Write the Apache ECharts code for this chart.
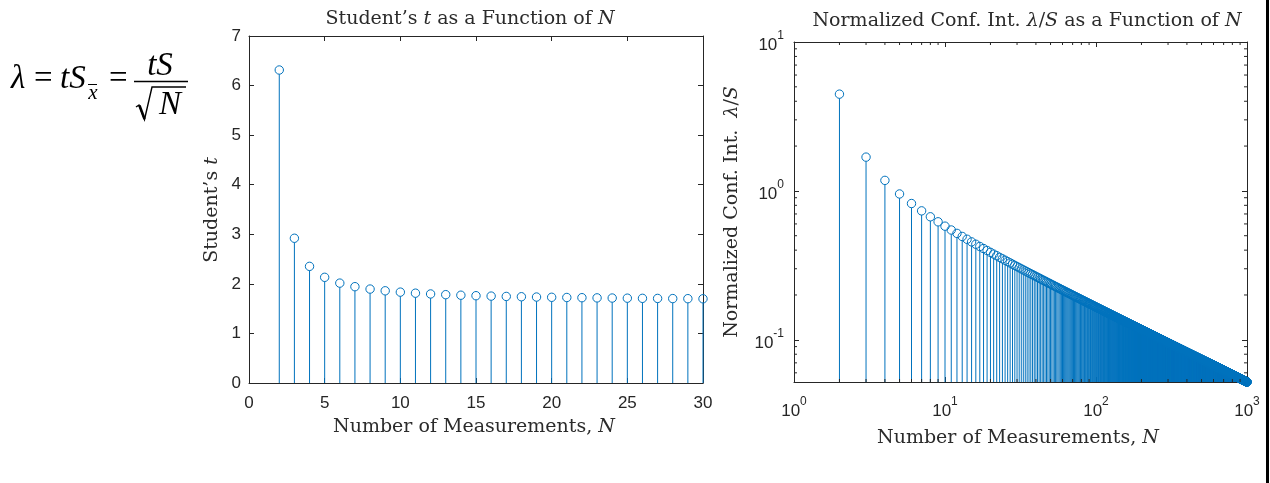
<!DOCTYPE html>
<html>
<head>
<meta charset="utf-8">
<script src="https://cdn.jsdelivr.net/npm/echarts@6/dist/echarts.min.js"></script>
<style>
html,body{margin:0;padding:0;background:#fff;}
#chart{width:1270px;height:483px;}
</style>
</head>
<body>
<div id="chart"></div>
<script>
// ---------------- data ----------------
// Number of measurements N shown in the left panel
const N_LEFT = [2,3,4,5,6,7,8,9,10,11,12,13,14,15,16,17,18,19,20,21,22,23,24,25,26,27,28,29,30];
// Student's t for N = 2..30
const T_LEFT = [6.314,2.920,2.353,2.132,2.015,1.943,1.895,1.860,1.833,1.812,1.796,1.782,1.771,1.761,1.753,1.746,1.740,1.734,1.729,1.725,1.721,1.717,1.714,1.711,1.708,1.706,1.703,1.701,1.699];
// Right panel: N runs from 2 to 1000
const N_RIGHT_FIRST = 2;
const N_RIGHT_LAST = 1000;
// Large-sample t (one-sided 95 %) expansion coefficients, used beyond the tabulated N
const T_Z = 1.644854, T_C1 = 1.5238, T_C2 = 1.4202;
// Tick labels
const X_TICKS_LEFT = [0,5,10,15,20,25,30];
const Y_TICKS_LEFT = [0,1,2,3,4,5,6,7];
const X_MINOR_RIGHT = [2,3,4,5,6,7,8,9,20,30,40,50,60,70,80,90,200,300,400,500,600,700,800,900];
const Y_MINOR_RIGHT = [0.06,0.07,0.08,0.09,0.2,0.3,0.4,0.5,0.6,0.7,0.8,0.9,2,3,4,5,6,7,8,9];

// lambda / S = t / sqrt(N)  (equation shown at left of the figure)
const N_RIGHT = [];
const LAMBDA_S = [];
for (let n = N_RIGHT_FIRST; n <= N_RIGHT_LAST; n++) {
  const df = n - 1;
  const t = n <= 30 ? T_LEFT[n - 2] : T_Z + T_C1 / df + T_C2 / (df * df);
  N_RIGHT.push(n);
  LAMBDA_S.push(t / Math.sqrt(n));
}
const Y_MIN_RIGHT = Math.min.apply(null, LAMBDA_S);

// ---------------- style ----------------
const BLUE = '#0072BD';
const AX = '#262626';
const SANS = '"Liberation Sans", Arial, sans-serif';
const SERIF = '"Liberation Serif", "Times New Roman", serif';
const LSERIF = '"DejaVu Serif", serif';
const TICK_FS = 17;
const R = 4.2;

const chart = echarts.init(document.getElementById('chart'), null, {renderer: 'canvas'});

function baseAxis(extra) {
  return Object.assign({
    axisLine: {show: true, onZero: false, lineStyle: {color: AX, width: 1}},
    axisTick: {show: true, inside: true, length: 5, lineStyle: {color: AX, width: 1}},
    splitLine: {show: false},
    axisLabel: {color: AX, fontSize: TICK_FS, fontFamily: SANS}
  }, extra);
}

function logLabel(v) {
  const e = Math.log10(v);
  const r = Math.round(e);
  if (Math.abs(e - r) > 1e-6) return '';
  return '{b|10}{s|' + r + '}';
}
const LOG_RICH = {
  b: {fontSize: TICK_FS, fontFamily: SANS, color: AX, verticalAlign: 'bottom', padding: [7, 0, 0, 0]},
  s: {fontSize: 12, fontFamily: SANS, color: AX, verticalAlign: 'top'}
};

function stemRender(useZeroBase) {
  return function (params, api) {
    const x = api.value(0), y = api.value(1);
    const p = api.coord([x, y]);
    const cs = params.coordSys;
    const by = useZeroBase ? api.coord([x, 0])[1] : cs.y + cs.height;
    return {
      type: 'group',
      children: [
        {type: 'line', shape: {x1: p[0], y1: by, x2: p[0], y2: p[1] + R},
         style: {stroke: BLUE, lineWidth: 1}},
        {type: 'circle', shape: {cx: p[0], cy: p[1], r: R},
         style: {fill: 'transparent', stroke: BLUE, lineWidth: 1}}
      ]
    };
  };
}

const leftData = N_LEFT.map((n, i) => [n, T_LEFT[i]]);
const rightData = N_RIGHT.map((n, i) => [n, LAMBDA_S[i]]);

const option = {
  animation: false,
  backgroundColor: '#fff',
  grid: [
    {left: 249, top: 36, width: 454, height: 347},
    {left: 794, top: 42, width: 453, height: 340}
  ],
  xAxis: [
    baseAxis({gridIndex: 0, type: 'value', min: 0, max: 30, interval: 5, position: 'bottom',
      axisLabel: {color: AX, fontSize: TICK_FS, fontFamily: SANS, margin: 12}}),
    baseAxis({gridIndex: 0, type: 'value', min: 0, max: 30, interval: 5, position: 'top',
      axisLabel: {show: false}}),
    baseAxis({gridIndex: 1, type: 'log', logBase: 10, min: 1, max: 1000, position: 'bottom',
      axisLabel: {formatter: logLabel, rich: LOG_RICH, margin: 14, showMinLabel: true, showMaxLabel: true}}),
    baseAxis({gridIndex: 1, type: 'log', logBase: 10, min: 1, max: 1000, position: 'top',
      axisLabel: {show: false}})
  ],
  yAxis: [
    baseAxis({gridIndex: 0, type: 'value', min: 0, max: 7, interval: 1, position: 'left',
      axisLabel: {color: AX, fontSize: TICK_FS, fontFamily: SANS, margin: 8}}),
    baseAxis({gridIndex: 0, type: 'value', min: 0, max: 7, interval: 1, position: 'right',
      axisLabel: {show: false}}),
    baseAxis({gridIndex: 1, type: 'log', logBase: 10, min: Y_MIN_RIGHT, max: 10, position: 'left',
      axisLabel: {formatter: logLabel, rich: LOG_RICH, margin: 10, showMinLabel: false}}),
    baseAxis({gridIndex: 1, type: 'log', logBase: 10, min: Y_MIN_RIGHT, max: 10, position: 'right',
      axisLabel: {show: false}})
  ],
  series: [
    {type: 'custom', xAxisIndex: 0, yAxisIndex: 0, data: leftData, clip: false,
     renderItem: stemRender(true), z: 5},
    {type: 'custom', xAxisIndex: 2, yAxisIndex: 2, data: rightData, clip: false,
     progressive: 0, renderItem: stemRender(false), z: 5},
    {type: 'custom', xAxisIndex: 2, yAxisIndex: 2, data: X_MINOR_RIGHT.map(v => [v, 1]),
     clip: false, z: 6,
     renderItem: function (params, api) {
       const p = api.coord([api.value(0), api.value(1)]);
       const cs = params.coordSys;
       const b = cs.y + cs.height;
       return {type: 'group', children: [
         {type: 'line', shape: {x1: p[0], y1: b, x2: p[0], y2: b - 3}, style: {stroke: AX, lineWidth: 1}},
         {type: 'line', shape: {x1: p[0], y1: cs.y, x2: p[0], y2: cs.y + 3}, style: {stroke: AX, lineWidth: 1}}
       ]};
     }},
    {type: 'custom', xAxisIndex: 2, yAxisIndex: 2, data: Y_MINOR_RIGHT.map(v => [10, v]),
     clip: false, z: 6,
     renderItem: function (params, api) {
       const p = api.coord([api.value(0), api.value(1)]);
       const cs = params.coordSys;
       const r = cs.x + cs.width;
       return {type: 'group', children: [
         {type: 'line', shape: {x1: cs.x, y1: p[1], x2: cs.x + 3, y2: p[1]}, style: {stroke: AX, lineWidth: 1}},
         {type: 'line', shape: {x1: r, y1: p[1], x2: r - 3, y2: p[1]}, style: {stroke: AX, lineWidth: 1}}
       ]};
     }}
  ],
  graphic: []
};

// ---------- texts (titles, axis names, formula) ----------
const TXT_FS = 19;
const TXT_COL = '#2b2b2b';
const RICH_SERIF = {
  r: {fontSize: TXT_FS, fontFamily: LSERIF, fill: TXT_COL, color: TXT_COL},
  i: {fontSize: TXT_FS, fontFamily: LSERIF, fontStyle: 'italic', fill: TXT_COL, color: TXT_COL}
};
function label(text, x, y, rot) {
  return {
    type: 'text', x: x, y: y, rotation: rot || 0, silent: true,
    style: {text: text, x: 0, y: 0, fontSize: TXT_FS, fontFamily: LSERIF, fill: TXT_COL,
      align: 'center', verticalAlign: 'middle', textAlign: 'center', textVerticalAlign: 'middle',
      rich: RICH_SERIF}
  };
}
const G = option.graphic;
G.push(label('{r|Student\u2019s }{i|t}{r| as a Function of }{i|N}', 470, 19));
G.push(label('{r|Normalized Conf. Int. }{i|\u03bb}{r|/}{i|S}{r| as a Function of }{i|N}', 1027, 21));
G.push(label('{r|Number of Measurements, }{i|N}', 474, 427));
G.push(label('{r|Number of Measurements, }{i|N}', 1018, 438));
G.push(label('{r|Student\u2019s }{i|t}', 212, 210, Math.PI / 2));
G.push(label('{r|Normalized Conf. Int.  }{i|\u03bb}{r|/}{i|S}', 732, 212, Math.PI / 2));

// formula  lambda = t S_xbar = t S / sqrt(N)
const FF = 33;
function ftxt(t, x, y, italic, fs, align) {
  return {type: 'text', x: x, y: y, silent: true,
    style: {text: t, x: 0, y: 0, fontSize: fs || FF, fontFamily: SERIF,
      fontStyle: italic ? 'italic' : 'normal', fill: '#000',
      align: align || 'left', textAlign: align || 'left', verticalAlign: 'middle', textVerticalAlign: 'middle'}};
}
G.push(ftxt('\u03bb', 11, 79, true));
G.push(ftxt('=', 34, 79, false));
G.push(ftxt('tS', 60, 79, true));
G.push(ftxt('x', 93, 93, true, 21, 'center'));
G.push({type: 'line', silent: true, shape: {x1: 88, y1: 84.5, x2: 97, y2: 84.5}, style: {stroke: '#000', lineWidth: 1}});
G.push(ftxt('=', 109, 79, false));
G.push({type: 'line', silent: true, shape: {x1: 134, y1: 81.5, x2: 188, y2: 81.5}, style: {stroke: '#000', lineWidth: 1.5}});
G.push(ftxt('tS', 160, 66, true, FF, 'center'));
G.push({type: 'polyline', silent: true,
  shape: {points: [[136, 107], [139, 105], [144.5, 119.5], [152, 87], [186, 87]]},
  style: {stroke: '#000', lineWidth: 1.4, fill: null}});
G.push({type: 'line', silent: true, shape: {x1: 139.5, y1: 105.5, x2: 144.5, y2: 119}, style: {stroke: '#000', lineWidth: 2.6}});
G.push(ftxt('N', 170, 105, true, FF, 'center'));

// black bar at the right edge
G.push({type: 'rect', silent: true, shape: {x: 1266, y: 0, width: 3, height: 483}, style: {fill: '#000'}});

chart.setOption(option);
</script>
</body>
</html>
